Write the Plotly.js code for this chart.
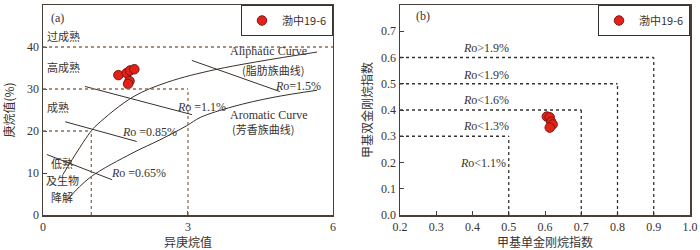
<!DOCTYPE html>
<html>
<head>
<meta charset="utf-8">
<script src="https://cdn.plot.ly/plotly-3.0.1.min.js"></script>
<style>html,body{margin:0;padding:0;background:#fff;}#chart{width:700px;height:250px;}</style>
</head>
<body>
<div id="chart"></div>
<script>
// ---------- Panel (a) data ----------
const seriesName = "渤中19-6";
const aIsoHeptane = [1.56, 1.73, 1.80, 1.89, 1.79, 1.76];
const aHeptane    = [33.3, 33.8, 34.4, 34.7, 31.9, 31.2];

const aliphaticX = [0.41, 0.97, 1.12, 1.86, 2.57, 3.60, 5.67];
const aliphaticY = [9.6, 19.6, 21.5, 28.1, 31.6, 34.7, 38.8];
const aromaticX  = [0.50, 0.97, 1.86, 2.42, 2.98, 3.25, 3.93, 4.76, 5.67];
const aromaticY  = [3.6, 8.9, 14.8, 17.9, 21.3, 23.2, 25.8, 28.0, 29.7];

const roLineNames = ["Ro=1.5%", "Ro=1.1%", "Ro=0.85%", "Ro=0.65%"];
const roLineX = [[3.08, 4.90], [0.87, 3.08], [0.46, 1.94], [0.08, 1.43]];
const roLineY = [[36.8, 29.4], [30.6, 23.9], [22.2, 17.5], [14.4, 8.4]];

// dotted zone boundaries (a): y level and x end of each boundary
const aZoneY    = [40, 30, 20];
const aZoneXEnd = [6, 3, 1];

// ---------- Panel (b) data ----------
const bMAI = [0.605, 0.613, 0.617, 0.621, 0.613];
const bMDI = [0.375, 0.372, 0.355, 0.345, 0.333];
const bZoneY    = [0.6, 0.5, 0.4, 0.3];
const bZoneXEnd = [0.9, 0.8, 0.7, 0.5];
const bZoneLabels = ["<i>R</i>o>1.9%", "<i>R</i>o<1.9%", "<i>R</i>o<1.6%", "<i>R</i>o<1.3%", "<i>R</i>o<1.1%"];
const bZoneLabelX = [0.437, 0.437, 0.437, 0.437, 0.43];
const bZoneLabelY = [0.635, 0.532, 0.437, 0.338, 0.20];

const aTicksX = [0, 3, 6];
const aTicksY = [0, 10, 20, 30, 40, 50];
const aTicksYText = ["0", "10", "20", "30", "40", "50"];
const bTicksX = [0.2, 0.3, 0.4, 0.5, 0.6, 0.7, 0.8, 0.9, 1.0];
const bTicksXText = ["0.2","0.3","0.4","0.5","0.6","0.7","0.8","0.9","1.0"];
const bTicksY = [0, 0.1, 0.2, 0.3, 0.4, 0.5, 0.6, 0.7, 0.8];
const bTicksYText = ["0.0","0.1","0.2","0.3","0.4","0.5","0.6","0.7","0.8"];

// ---------- styles ----------
const FONT = "Liberation Serif, Noto Sans CJK SC, serif";
const CJK = "Noto Sans CJK SC, Liberation Serif, serif";
const TXT = "#3a3330";
const AX = "#4a3f38";
const lineStyle = {color: "#3a2f2a", width: 1};
const marker = {color: "#e32119", size: 9.5, line: {color: "#7a1a12", width: 1}};

const traces = [];
traces.push({x: aliphaticX, y: aliphaticY, xaxis: "x", yaxis: "y", mode: "lines",
  line: Object.assign({shape: "spline", smoothing: 1}, lineStyle), showlegend: false, hoverinfo: "skip"});
traces.push({x: aromaticX, y: aromaticY, xaxis: "x", yaxis: "y", mode: "lines",
  line: Object.assign({shape: "spline", smoothing: 1}, lineStyle), showlegend: false, hoverinfo: "skip"});
roLineX.forEach((xs, i) => traces.push({x: xs, y: roLineY[i], name: roLineNames[i], xaxis: "x", yaxis: "y",
  mode: "lines", line: lineStyle, showlegend: false, hoverinfo: "skip"}));
traces.push({x: aIsoHeptane, y: aHeptane, name: seriesName, xaxis: "x", yaxis: "y", mode: "markers",
  marker: marker, legend: "legend", showlegend: true});
traces.push({x: bMAI, y: bMDI, name: seriesName, xaxis: "x2", yaxis: "y2", mode: "markers",
  marker: marker, legend: "legend2", showlegend: true});

const shapes = [];
aZoneY.forEach((yv, i) => {
  shapes.push({type: "line", xref: "x", yref: "y", x0: 0, x1: aZoneXEnd[i], y0: yv, y1: yv,
    line: {color: "#8a6e55", width: 1.3, dash: "dot"}});
  if (aZoneXEnd[i] < 6) shapes.push({type: "line", xref: "x", yref: "y", x0: aZoneXEnd[i], x1: aZoneXEnd[i], y0: 0, y1: yv,
    line: {color: "#8a6e55", width: 1.3, dash: "dot"}});
});
bZoneY.forEach((yv, i) => {
  shapes.push({type: "line", xref: "x2", yref: "y2", x0: 0.2, x1: bZoneXEnd[i], y0: yv, y1: yv,
    line: {color: "#333", width: 1.3, dash: "dot"}});
  shapes.push({type: "line", xref: "x2", yref: "y2", x0: bZoneXEnd[i], x1: bZoneXEnd[i], y0: 0, y1: yv,
    line: {color: "#333", width: 1.3, dash: "dot"}});
});

function ann(xref, yref, x, y, text, size, family, extra) {
  return Object.assign({xref: xref, yref: yref, x: x, y: y, text: text, showarrow: false,
    font: {family: family || FONT, size: size || 12, color: TXT}}, extra || {});
}
const annotations = [
  ann("x", "y", 0.30, 46.8, "(a)", 12),
  ann("x", "y", 0.05, 42.6, "过成熟", 11, CJK, {xanchor: "left"}),
  ann("x", "y", 0.05, 35.2, "高成熟", 11, CJK, {xanchor: "left"}),
  ann("x", "y", 0.05, 25.6, "成熟", 11, CJK, {xanchor: "left"}),
  ann("x", "y", 0.40, 12.4, "低熟", 11, CJK),
  ann("x", "y", 0.40, 8.4, "及生物", 11, CJK),
  ann("x", "y", 0.40, 4.3, "降解", 11, CJK),
  ann("x", "y", 4.67, 39.0, "Aliphatic Curve", 12),
  ann("x", "y", 4.76, 34.6, "(脂肪族曲线)", 11, CJK),
  ann("x", "y", 5.28, 30.6, "<i>R</i>o=1.5%", 12),
  ann("x", "y", 3.27, 25.8, "<i>R</i>o =1.1%", 12),
  ann("x", "y", 4.67, 23.7, "Aromatic Curve", 12),
  ann("x", "y", 4.55, 20.5, "(芳香族曲线)", 11, CJK),
  ann("x", "y", 2.21, 19.8, "<i>R</i>o =0.85%", 12),
  ann("x", "y", 1.97, 10.0, "<i>R</i>o =0.65%", 12),
  ann("x2", "y2", 0.263, 0.758, "(b)", 12)
];
bZoneLabels.forEach((t, i) => annotations.push(ann("x2", "y2", bZoneLabelX[i], bZoneLabelY[i], t, 12)));

function axis(extra) {
  return Object.assign({showgrid: false, zeroline: false, showline: true, mirror: true,
    linecolor: AX, linewidth: 1.5, ticks: "inside", ticklen: 4, tickcolor: AX,
    tickfont: {family: FONT, size: 12, color: TXT}, fixedrange: true}, extra);
}

const layout = {
  width: 700, height: 250,
  margin: {l: 43, r: 10, t: 5, b: 35},
  paper_bgcolor: "#fff", plot_bgcolor: "#fff",
  showlegend: true,
  xaxis: axis({domain: [0, 0.4482], range: [0, 6], tickvals: aTicksX, anchor: "y",
    title: {text: "异庚烷值", font: {family: CJK, size: 12, color: TXT}, standoff: 4}}),
  yaxis: axis({domain: [0, 1], range: [0, 50], tickvals: aTicksY, ticktext: aTicksYText, anchor: "x",
    title: {text: "庚烷值(%)", font: {family: CJK, size: 12, color: TXT}, standoff: 10}}),
  xaxis2: axis({domain: [0.5518, 1], range: [0.2, 1.0], tickvals: bTicksX, ticktext: bTicksXText, anchor: "y2",
    title: {text: "甲基单金刚烷指数", font: {family: CJK, size: 12, color: TXT}, standoff: 4}}),
  yaxis2: axis({domain: [0, 1], range: [0, 0.8], tickvals: bTicksY, ticktext: bTicksYText, anchor: "x2",
    title: {text: "甲基双金刚烷指数", font: {family: CJK, size: 12, color: TXT}, standoff: 6}}),
  legend: {x: 0.4482, xanchor: "right", y: 1, yanchor: "top", bgcolor: "#fff",
    bordercolor: "#333", borderwidth: 1, itemwidth: 30, font: {family: CJK, size: 11, color: TXT}},
  legend2: {x: 1, xanchor: "right", y: 1, yanchor: "top", bgcolor: "#fff",
    bordercolor: "#333", borderwidth: 1, itemwidth: 30, font: {family: CJK, size: 11, color: TXT}},
  shapes: shapes,
  annotations: annotations
};

Plotly.newPlot("chart", traces, layout, {staticPlot: true, displayModeBar: false});
</script>
</body>
</html>
